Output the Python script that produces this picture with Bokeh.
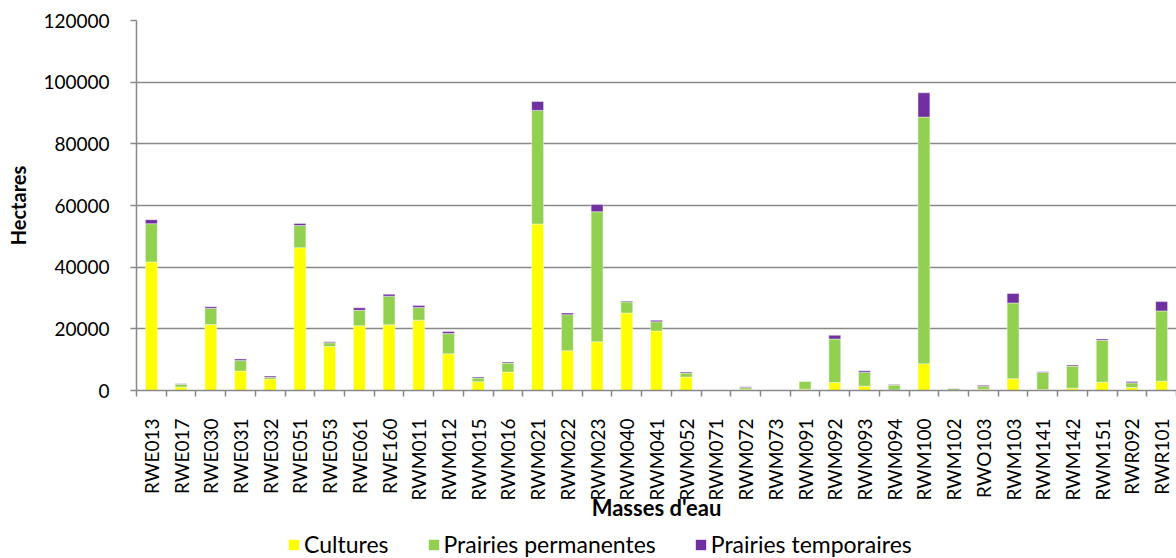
import math
from bokeh.plotting import figure
from bokeh.layouts import column
from bokeh.models import (ColumnDataSource, FixedTicker, Legend, LegendItem,
                          Range1d, NumeralTickFormatter)
from bokeh.embed import file_html
from bokeh.resources import INLINE

categories = ["RWE013", "RWE017", "RWE030", "RWE031", "RWE032", "RWE051", "RWE053",
              "RWE061", "RWE160", "RWM011", "RWM012", "RWM015", "RWM016", "RWM021",
              "RWM022", "RWM023", "RWM040", "RWM041", "RWM052", "RWM071", "RWM072",
              "RWM073", "RWM091", "RWM092", "RWM093", "RWM094", "RWM100", "RWM102",
              "RWO103", "RWM103", "RWM141", "RWM142", "RWM151", "RWR092", "RWR101"]

cultures = [41700, 1100, 21400, 6300, 3700, 46300, 14300,
            21000, 21300, 22800, 11900, 2840, 5960, 54000,
            12900, 15800, 25150, 19300, 4340, 0, 430,
            0, 430, 2600, 1400, 200, 8670, 150,
            430, 3800, 330, 760, 2710, 980, 3035]

prairies_permanentes = [12400, 900, 5300, 3400, 600, 7200, 1200,
                        5000, 9300, 4150, 6550, 1200, 2930, 36850,
                        11700, 42200, 3600, 3000, 1300, 0, 580,
                        0, 2550, 14100, 4550, 1550, 80000, 500,
                        980, 24600, 5520, 7150, 13550, 1510, 22770]

prairies_temporaires = [1300, 200, 500, 500, 400, 650, 300,
                        800, 650, 650, 650, 330, 320, 2900,
                        550, 2300, 300, 450, 320, 0, 180,
                        0, 50, 1200, 450, 200, 7900, 100,
                        320, 3050, 220, 330, 430, 440, 3030]

series_names = ["Cultures", "Prairies permanentes", "Prairies temporaires"]
series_colors = ["#FFFF00", "#92D050", "#7030A0"]
y_ticks = [0, 20000, 40000, 60000, 80000, 100000, 120000]

FONT = "Lato"
GRID = "#898989"

n = len(categories)
xpos = [i + 0.5 for i in range(n)]
b1 = [0] * n
t1 = [c for c in cultures]
t2 = [a + b for a, b in zip(t1, prairies_permanentes)]
t3 = [a + b for a, b in zip(t2, prairies_temporaires)]

src = ColumnDataSource(dict(x=xpos, b1=b1, t1=t1, t2=t2, t3=t3))

p = figure(width=1176, height=530, output_backend="svg", toolbar_location=None,
           x_range=Range1d(0, n), y_range=Range1d(0, 120000),
           min_border_left=136, min_border_right=0, min_border_top=20,
           min_border_bottom=140)
p.outline_line_color = None
p.background_fill_color = "white"
p.border_fill_color = "white"

bw = 0.4
bar_kw = dict(width=bw, source=src, line_color="white", line_width=0.6, line_alpha=0.7)
p.vbar(x="x", bottom="b1", top="t1", fill_color=series_colors[0], **bar_kw)
p.vbar(x="x", bottom="t1", top="t2", fill_color=series_colors[1], **bar_kw)
p.vbar(x="x", bottom="t2", top="t3", fill_color=series_colors[2], **bar_kw)

# x axis: labels at centres, tick marks between categories
xa = p.xaxis[0]
xa.ticker = FixedTicker(ticks=xpos, minor_ticks=list(range(n + 1)))
xa.major_label_overrides = {x: c for x, c in zip(xpos, categories)}
xa.major_label_orientation = math.pi / 2
xa.major_tick_out = 0
xa.major_tick_in = 0
xa.minor_tick_out = 6
xa.minor_tick_in = 0
xa.minor_tick_line_color = GRID
xa.minor_tick_line_width = 1.5
xa.axis_line_color = GRID
xa.axis_line_width = 1.5
xa.major_label_standoff = 22
xa.major_label_text_font = FONT
xa.major_label_text_font_size = "19px"
xa.major_label_text_color = "#000000"
xa.axis_label = "Masses d'eau"
xa.axis_label_text_font = FONT
xa.axis_label_text_font_style = "bold"
xa.axis_label_text_font_size = "22px"
xa.axis_label_text_color = "#000000"
xa.axis_label_standoff = -10

ya = p.yaxis[0]
ya.ticker = FixedTicker(ticks=y_ticks)
ya.formatter = NumeralTickFormatter(format="0")
ya.minor_tick_line_color = None
ya.major_tick_out = 6
ya.major_tick_in = 0
ya.major_tick_line_color = GRID
ya.major_tick_line_width = 1.5
ya.axis_line_color = GRID
ya.axis_line_width = 1.5
ya.major_label_standoff = 21
ya.major_label_text_font = FONT
ya.major_label_text_font_size = "19px"
ya.major_label_text_color = "#000000"
ya.axis_label = "Hectares"
ya.axis_label_text_font = FONT
ya.axis_label_text_font_style = "bold"
ya.axis_label_text_font_size = "20px"
ya.axis_label_text_color = "#000000"
ya.axis_label_standoff = 10

p.xgrid.grid_line_color = None
p.ygrid.ticker = FixedTicker(ticks=y_ticks)
p.ygrid.grid_line_color = GRID
p.ygrid.grid_line_width = 1.5

# legend strip below the chart (its frame is aligned with the chart's frame)
lg = figure(width=1176, height=28, output_backend="svg", toolbar_location=None,
            x_axis_type=None, y_axis_type=None, min_border=0,
            x_range=Range1d(0, 1), y_range=Range1d(0, 1))
lg.outline_line_color = None
lg.grid.grid_line_color = None
lg.background_fill_color = "white"
lg.border_fill_color = "white"
dummy = ColumnDataSource(dict(x=[-5], b=[-5], t=[-4]))  # outside the visible range
items = []
for name, col in zip(series_names, series_colors):
    r = lg.vbar(x="x", bottom="b", top="t", width=0.1, source=dummy,
                fill_color=col, line_color=None)
    items.append(LegendItem(label=name, renderers=[r]))

legend = Legend(items=items, orientation="horizontal", location=(151, 0),
                glyph_width=13, glyph_height=13, label_standoff=4, spacing=38,
                label_text_font=FONT, label_text_font_size="23px",
                label_text_color="#000000", label_height=26,
                border_line_color=None, background_fill_alpha=0,
                margin=0, padding=0)
lg.add_layout(legend, "center")

layout = column(p, lg, spacing=0)
open("out.html", "w").write(file_html(layout, INLINE))
